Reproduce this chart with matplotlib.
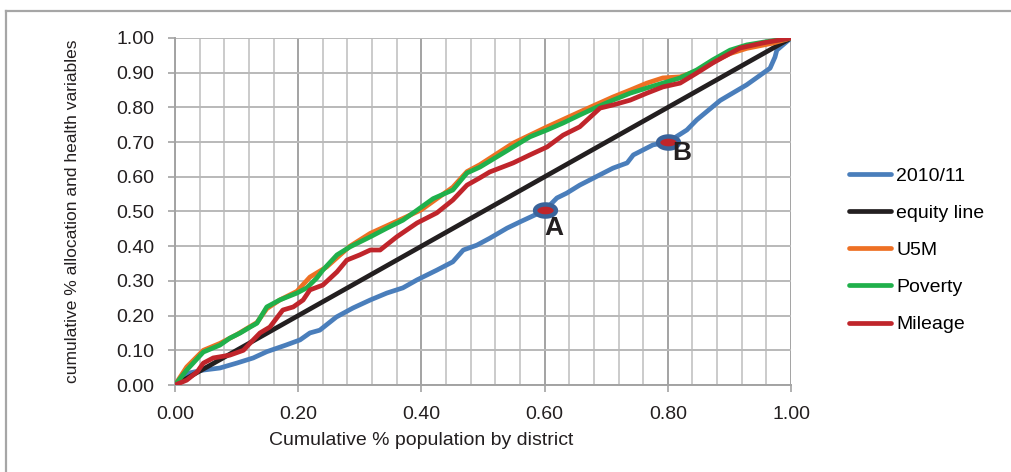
import numpy as np
import matplotlib
matplotlib.use("Agg")
import matplotlib.pyplot as plt
from matplotlib.path import Path
from matplotlib.lines import Line2D
from matplotlib.ticker import MultipleLocator

plt.rcParams['font.family'] = ['Liberation Sans', 'DejaVu Sans']

# cumulative share of population (x) vs cumulative share of allocation (y)
alloc_x = [0, 0.024, 0.046, 0.073, 0.10, 0.127, 0.149, 0.18, 0.203, 0.219, 0.235, 0.262,
           0.289, 0.317, 0.344, 0.37, 0.393, 0.425, 0.451, 0.468, 0.49, 0.511, 0.539,
           0.56, 0.60, 0.62, 0.636, 0.657, 0.711, 0.734, 0.744, 0.776, 0.80, 0.831,
           0.847, 0.885, 0.928, 0.966, 0.974, 0.977, 1.0]
alloc_y = [0, 0.035, 0.043, 0.049, 0.063, 0.078, 0.096, 0.115, 0.13, 0.15, 0.158, 0.196,
           0.222, 0.245, 0.265, 0.28, 0.303, 0.331, 0.355, 0.389, 0.403, 0.423, 0.452,
           0.47, 0.503, 0.539, 0.553, 0.576, 0.625, 0.64, 0.663, 0.692, 0.70, 0.735,
           0.764, 0.82, 0.865, 0.913, 0.945, 0.965, 1.0]

equity_x = [0, 1]
equity_y = [0, 1]

u5m_x = [0, 0.019, 0.046, 0.073, 0.10, 0.133, 0.149, 0.17, 0.198, 0.219, 0.246, 0.284,
         0.317, 0.37, 0.40, 0.451, 0.474, 0.495, 0.549, 0.604, 0.657, 0.711, 0.739,
         0.766, 0.792, 0.82, 0.847, 0.873, 0.901, 0.928, 0.97, 1.0]
u5m_y = [0, 0.052, 0.10, 0.12, 0.145, 0.18, 0.22, 0.245, 0.27, 0.311, 0.34, 0.40,
         0.437, 0.48, 0.505, 0.57, 0.615, 0.635, 0.697, 0.744, 0.787, 0.83, 0.85,
         0.87, 0.885, 0.888, 0.905, 0.93, 0.955, 0.97, 0.985, 1.0]

poverty_x = [0, 0.019, 0.046, 0.073, 0.089, 0.106, 0.122, 0.133, 0.149, 0.17, 0.198,
             0.214, 0.23, 0.24, 0.263, 0.284, 0.317, 0.344, 0.37, 0.39, 0.419, 0.451,
             0.474, 0.495, 0.522, 0.549, 0.576, 0.604, 0.63, 0.657, 0.685, 0.711,
             0.739, 0.766, 0.792, 0.82, 0.847, 0.873, 0.901, 0.928, 0.955, 1.0]
poverty_y = [0, 0.043, 0.095, 0.115, 0.135, 0.15, 0.167, 0.178, 0.225, 0.245, 0.265,
             0.28, 0.308, 0.331, 0.375, 0.398, 0.427, 0.452, 0.475, 0.50, 0.537, 0.562,
             0.611, 0.628, 0.657, 0.686, 0.715, 0.735, 0.755, 0.778, 0.801, 0.821,
             0.841, 0.856, 0.87, 0.885, 0.908, 0.937, 0.965, 0.98, 0.988, 1.0]

mileage_x = [0, 0.019, 0.036, 0.046, 0.062, 0.089, 0.111, 0.127, 0.138, 0.154, 0.175,
             0.192, 0.208, 0.219, 0.24, 0.263, 0.279, 0.30, 0.317, 0.333, 0.36, 0.393,
             0.425, 0.451, 0.474, 0.495, 0.511, 0.549, 0.576, 0.604, 0.63, 0.657, 0.69,
             0.711, 0.739, 0.766, 0.792, 0.82, 0.847, 0.873, 0.89, 0.917, 0.955, 1.0]
mileage_y = [0, 0.014, 0.038, 0.063, 0.078, 0.086, 0.10, 0.13, 0.15, 0.167, 0.216,
             0.225, 0.245, 0.274, 0.288, 0.326, 0.36, 0.375, 0.389, 0.389, 0.427, 0.467,
             0.496, 0.533, 0.576, 0.597, 0.614, 0.64, 0.663, 0.686, 0.72, 0.744, 0.798,
             0.807, 0.821, 0.841, 0.859, 0.87, 0.899, 0.928, 0.945, 0.971, 0.986, 1.0]

# highlighted points on the 2010/11 curve
point_x = [0.6, 0.8]
point_y = [0.503, 0.70]
point_labels = ['A', 'B']

series = [
    ('2010/11', alloc_x, alloc_y, '#4a7ebb'),
    ('equity line', equity_x, equity_y, '#231f20'),
    ('U5M', u5m_x, u5m_y, '#ee7024'),
    ('Poverty', poverty_x, poverty_y, '#20b04b'),
    ('Mileage', mileage_x, mileage_y, '#c0252b'),
]

W, H = 1011, 472
fig = plt.figure(figsize=(W / 100, H / 100), dpi=100)
ax = fig.add_axes([175 / W, 1 - 385 / H, 616 / W, 347 / H])

# outer frame: only the top and left edges show
frame_kw = dict(transform=fig.transFigure, color='#a6a6a6', linewidth=1.6)
fig.lines.append(Line2D([6 / W, 1.02], [1 - 11 / H, 1 - 11 / H], **frame_kw))
fig.lines.append(Line2D([6 / W, 6 / W], [-0.02, 1 - 11 / H], **frame_kw))

for label, xs, ys, col in series:
    ax.plot(xs, ys, color=col, linewidth=3.4, label=label, solid_capstyle='round',
            solid_joinstyle='round', zorder=3)

# elliptical marker
t = np.linspace(0, 2 * np.pi, 60)
ellipse = Path(np.column_stack([np.cos(t), 0.58 * np.sin(t)]), closed=True)
ax.plot(point_x, point_y, linestyle='none', marker=ellipse, markersize=15,
        markerfacecolor='#c0252b', markeredgecolor='#3a639a', markeredgewidth=3.2,
        zorder=5)
ax.annotate(point_labels[0], (point_x[0], point_y[0]), xytext=(0, -4),
            textcoords='offset points', ha='left', va='top',
            fontsize=19, fontweight='bold', color='#231f20', zorder=6)
ax.annotate(point_labels[1], (point_x[1], point_y[1]), xytext=(3, 1),
            textcoords='offset points', ha='left', va='top',
            fontsize=19, fontweight='bold', color='#231f20', zorder=6)

ax.set_xlim(0, 1)
ax.set_ylim(0, 1)
ax.xaxis.set_major_locator(MultipleLocator(0.2))
ax.xaxis.set_minor_locator(MultipleLocator(0.04))
ax.yaxis.set_major_locator(MultipleLocator(0.1))
ax.xaxis.set_major_formatter(lambda v, p: f'{v:.2f}')
ax.yaxis.set_major_formatter(lambda v, p: f'{v:.2f}')

ax.grid(which='major', axis='x', color='#a3a3a3', linewidth=1.4, zorder=1)
ax.grid(which='minor', axis='x', color='#cbcbcb', linewidth=1.4, zorder=1)
ax.grid(which='major', axis='y', color='#b9b9b9', linewidth=1.4, zorder=1)
ax.set_axisbelow(True)

for side in ['top', 'right']:
    ax.spines[side].set_visible(False)
for side in ['left', 'bottom']:
    ax.spines[side].set_color('#a3a3a3')
    ax.spines[side].set_linewidth(1.4)

ax.tick_params(which='major', length=5, width=1.2, color='#a3a3a3',
               labelsize=14, labelcolor='#231f20', pad=10)
ax.tick_params(which='minor', length=0)

ax.set_xlabel('Cumulative % population by district', fontsize=14, color='#231f20')
ax.xaxis.set_label_coords((421 - 175) / 616, (385 - 432) / 347)
ax.set_ylabel('cumulative % allocation and health variables', fontsize=12.5,
              color='#231f20', labelpad=26)

ax.legend(loc='upper left', bbox_to_anchor=(831 / W, 1 - 150 / H),
          bbox_transform=fig.transFigure, frameon=False, fontsize=14,
          handlelength=2.2, handletextpad=0.25, labelspacing=1.0)

fig.savefig('out.png', dpi=100)
